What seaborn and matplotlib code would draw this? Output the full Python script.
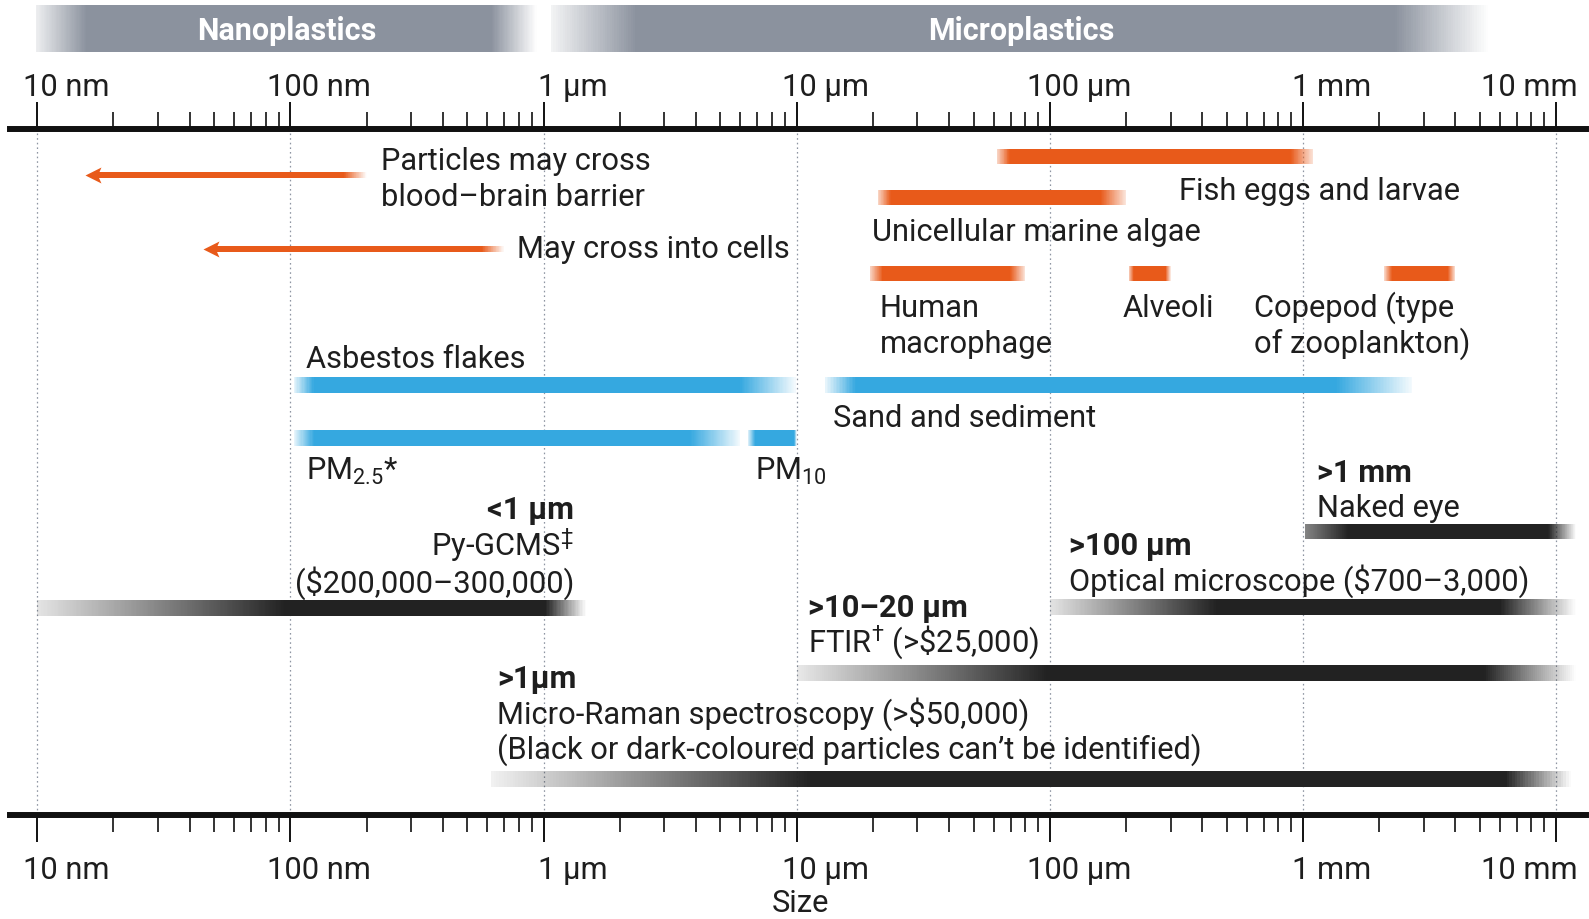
import numpy as np
import matplotlib
matplotlib.use("Agg")
import matplotlib.pyplot as plt
import matplotlib.transforms as mtransforms
from matplotlib.colors import LinearSegmentedColormap
from matplotlib.path import Path
from matplotlib.ticker import FixedLocator, NullFormatter
import seaborn as sns

# ---------------------------------------------------------------- data (µm)
decade_um = [0.01, 0.1, 1, 10, 100, 1000, 10000]
decade_labels = ["10 nm", "100 nm", "1 µm", "10 µm", "100 µm", "1 mm", "10 mm"]

class_names = ["Nanoplastics", "Microplastics"]
class_lo_um = [0.0099, 1.07]
class_hi_um = [0.94, 5400]

organism_names = ["Fish eggs and larvae", "Unicellular marine algae",
                  "Human macrophage", "Alveoli", "Copepod"]
organism_lo_um = [62, 21, 19.5, 205, 2100]
organism_hi_um = [1100, 200, 80, 300, 4000]

particle_names = ["Asbestos flakes", "Sand and sediment", "PM2.5", "PM10"]
particle_lo_um = [0.103, 13, 0.103, 6.4]
particle_hi_um = [9.9, 2700, 6.0, 10]

barrier_names = ["Blood-brain barrier", "Cells"]
barrier_from_um = [0.2, 0.7]
barrier_to_um = [0.0155, 0.045]

method_names = ["Py-GCMS", "Naked eye", "Optical microscope", "FTIR",
                "Micro-Raman spectroscopy"]
method_lo_um = [0.01, 1020, 100, 10, 0.62]
method_hi_um = [1.47, 12000, 12000, 12000, 11500]

# ---------------------------------------------------------------- styling
W, H = 1589, 920
DEC = 253.1  # pixels per decade

sns.set_theme(style="white")
plt.rcParams["font.family"] = ["Roboto", "DejaVu Sans"]
plt.rcParams["mathtext.fontset"] = "custom"
plt.rcParams["mathtext.rm"] = "Roboto"
plt.rcParams["mathtext.it"] = "Roboto:italic"
plt.rcParams["mathtext.bf"] = "Roboto:bold"

orange, blue, dark, band_grey = sns.color_palette(
    ["#e85a1a", "#35a8e0", "#222222", "#8b929e"])
ink = "#1e1e1e"
FS = 22.2

fig = plt.figure(figsize=(W / 100, H / 100), dpi=100)
ax = fig.add_axes([0, 0, 1, 1])
ax.set_xscale("log")
ax.set_xlim(10 ** (-2 - 37.3 / DEC), 10 ** (4 + 33 / DEC))
ax.set_ylim(H, 0)
ax.autoscale(False)
ax.set_facecolor("white")
px = mtransforms.Affine2D().scale(1 / W, -1 / H).translate(0, 1) + fig.transFigure

# the two size axes (top and bottom) share the same log scale
for side, ypos in (("top", 129.7), ("bottom", 816.3)):
    sp = ax.spines[side]
    sp.set_visible(True)
    sp.set_position(("data", ypos))
    sp.set_linewidth(4.3)
    sp.set_color("#111111")
    sp.set_bounds(10 ** (-2 - 27.3 / DEC), 10 ** (4 + 30 / DEC))
for side in ("left", "right"):
    ax.spines[side].set_visible(False)
ax.yaxis.set_visible(False)

ax.xaxis.set_major_locator(FixedLocator(decade_um))
minor = [k * d for d in decade_um[:-1] for k in range(2, 10)]
ax.xaxis.set_minor_locator(FixedLocator(minor))
ax.xaxis.set_major_formatter(NullFormatter())
ax.xaxis.set_minor_formatter(NullFormatter())
ax.tick_params(axis="x", which="major", direction="out", length=19.3,
               width=1.4, color="#111111", top=True, bottom=True,
               labeltop=False, labelbottom=False)
ax.tick_params(axis="x", which="minor", direction="out", length=12,
               width=1.2, color="#111111", top=True, bottom=True)

# dotted decade guides
ax.vlines(decade_um, 134, 812, colors="#8e95a2", linestyles=(0, (1.3, 2.4)),
          linewidth=0.9, zorder=0.5)


def fade_bar(lo, hi, y, thick, rgb, ramp_in, ramp_out, a0=0.0, a1=0.0,
             n=400, z=2):
    u = np.linspace(np.log10(lo), np.log10(hi), n + 1)
    mid = 0.5 * (u[:-1] + u[1:])
    alpha = np.interp(mid, [u[0], u[0] + ramp_in, u[-1] - ramp_out, u[-1]],
                      [a0, 1, 1, a1])
    cmap = LinearSegmentedColormap.from_list(
        "fade", [(*rgb, 0.0), (*rgb, 1.0)])
    ax.pcolormesh(10 ** u, [y - thick / 2, y + thick / 2], alpha[None, :],
                  cmap=cmap, vmin=0, vmax=1, shading="flat", zorder=z,
                  antialiased=False)


def label(x, y, s, ha="left", weight="normal", size=FS, color=ink, math=True):
    ax.text(x, y + 1.5, s, transform=px, ha=ha, va="baseline", fontsize=size,
            fontweight=weight, color=color, parse_math=math, zorder=4)


# ---- plastic size classes
class_fades = [(0.2, 0.18, 0.15), (0.34, 0.37, 0.1)]
class_text_x = [287, 1021]
for name, lo, hi, (ri, ro, a0), tx in zip(class_names, class_lo_um,
                                          class_hi_um, class_fades,
                                          class_text_x):
    fade_bar(lo, hi, 29.5, 47, band_grey, ri, ro, a0=a0, z=1)
    label(tx, 38.5, name, ha="center", weight="bold", size=22,
          color="white")

# ---- tick labels
for v, s in zip(decade_um, decade_labels):
    xp = ax.transData.transform((v, 0))[0]
    if s == decade_labels[-1]:
        kw = dict(ha="right")
        xp = 1578
    else:
        kw = dict(ha="center")
        xp = xp + 29
    label(xp, 95, s, **kw)
    label(xp, 878, s, **kw)
label(800, 911, "Size", ha="center")

# ---- barrier arrows
head = Path([(0, 0), (1, 0.5), (0.78, 0), (1, -0.5), (0, 0)],
            [Path.MOVETO, Path.LINETO, Path.LINETO, Path.LINETO,
             Path.CLOSEPOLY])
arrow_y = [176, 250]
for src, dst, y in zip(barrier_from_um, barrier_to_um, arrow_y):
    base = dst * 10 ** (11 / DEC)
    fade_bar(base, src, y, 6.5, orange, 0.0, 0.09, a0=1.0, a1=0.0)
    ax.plot([dst], [y], marker=head, markersize=23, color=orange,
            markeredgewidth=0, linestyle="none", zorder=3)
label(381, 168.5, "Particles may cross")
label(381, 204, "blood–brain barrier")
label(517, 257, "May cross into cells")

# ---- organisms (orange)
org_y = [157, 198.6, 274.6, 274.6, 274.6]
org_fades = [(0.05, 0.09), (0.05, 0.1), (0.05, 0.06), (0.02, 0.02),
             (0.03, 0.03)]
for lo, hi, y, (ri, ro) in zip(organism_lo_um, organism_hi_um, org_y,
                               org_fades):
    fade_bar(lo, hi, y, 15, orange, ri, ro, a0=0.25, a1=0.15)
label(1179, 198, "Fish eggs and larvae")
label(872, 239.5, "Unicellular marine algae")
label(880, 315.5, "Human")
label(880, 351.5, "macrophage")
label(1123, 315.5, "Alveoli")
label(1254, 315.5, "Copepod (type")
label(1254, 351.5, "of zooplankton)")

# ---- particles (blue)
part_y = [386, 386, 439, 439]
part_fades = [(0.08, 0.22), (0.12, 0.3), (0.08, 0.2), (0.03, 0.01)]
for lo, hi, y, (ri, ro) in zip(particle_lo_um, particle_hi_um, part_y,
                               part_fades):
    fade_bar(lo, hi, y, 16, blue, ri, ro, a0=0.1, a1=0.05)
label(306, 367, "Asbestos flakes")
label(833, 426, "Sand and sediment")
label(306, 478.7, r"PM$_{\mathrm{2.5}}$*")
label(755, 478.7, r"PM$_{\mathrm{10}}$")

# ---- detection methods (dark gradient)
meth_y = [609, 532.5, 608, 674, 780]
meth_fades = [(0.98, 0.16, 0.12), (0.17, 0.11, 0.55), (0.66, 0.3, 0.12),
              (0.99, 0.36, 0.1), (1.26, 0.26, 0.06)]
for lo, hi, y, (ri, ro, a0) in zip(method_lo_um, method_hi_um, meth_y,
                                   meth_fades):
    fade_bar(lo, hi, y, 15.5, dark, ri, ro, a0=a0, a1=0.0)

label(574, 518, "<1 µm", ha="right", weight="bold")
label(574, 555, r"Py-GCMS$^{\ddag}$", ha="right")
label(574, 591, "($200,000–300,000)", ha="right", math=False)

label(1317, 481, ">1 mm", weight="bold")
label(1317, 516, "Naked eye")

label(1069, 553.7, ">100 µm", weight="bold")
label(1069, 589, "Optical microscope ($700–3,000)", math=False)

label(808, 615.5, ">10–20 µm", weight="bold")
label(808, 651, r"FTIR$^{\dag}$ (>\$25,000)")

label(497, 686.5, ">1µm", weight="bold")
label(497, 722, "Micro-Raman spectroscopy (>$50,000)", math=False)
label(497, 757.5, "(Black or dark-coloured particles can’t be identified)")

fig.savefig("out.png", dpi=100)
